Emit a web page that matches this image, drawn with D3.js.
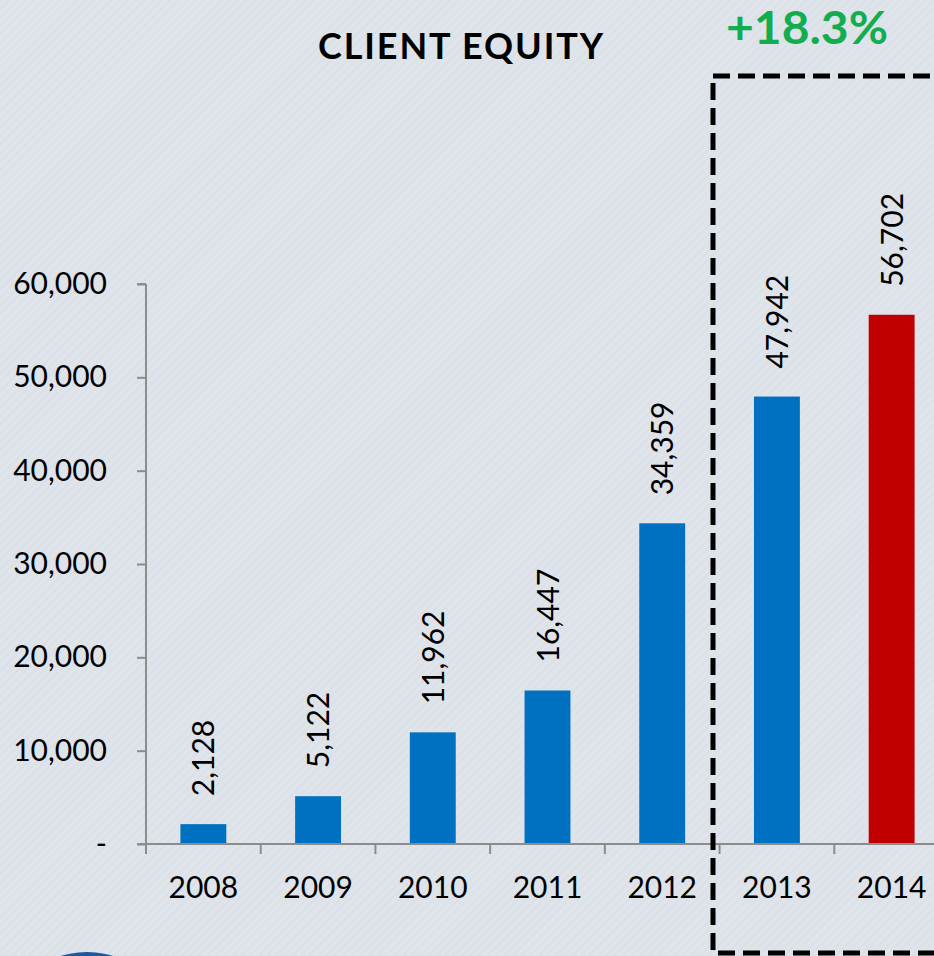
<!DOCTYPE html>
<html>
<head>
<meta charset="utf-8">
<script src="https://cdn.jsdelivr.net/npm/d3@7"></script>
<style>
  html, body { margin: 0; padding: 0; background: #dfe3ea; }
  svg { display: block; font-family: Lato, "Noto Sans", sans-serif; }
</style>
</head>
<body>
<svg id="chart" width="934" height="956"></svg>
<script>
// chart data
const years = ['2008', '2009', '2010', '2011', '2012', '2013', '2014'];
const equity = [2128, 5122, 11962, 16447, 34359, 47942, 56702];
const yTicks = [0, 10000, 20000, 30000, 40000, 50000, 60000];
const title = 'CLIENT EQUITY';
const growthLabel = '+18.3%';

const svg = d3.select('#chart');

// background with a faint diagonal texture
const defs = svg.append('defs');
const pat = defs.append('pattern')
  .attr('id', 'tex')
  .attr('width', 6).attr('height', 6)
  .attr('patternUnits', 'userSpaceOnUse')
  .attr('patternTransform', 'rotate(45)');
pat.append('rect').attr('width', 6).attr('height', 6).attr('fill', '#dfe3ea');
pat.append('line')
  .attr('x1', 0).attr('y1', 0).attr('x2', 0).attr('y2', 6)
  .attr('stroke', '#d9dde5').attr('stroke-width', 2);
svg.append('rect').attr('width', 934).attr('height', 956).attr('fill', 'url(#tex)');

const xScale = d3.scaleBand()
  .domain(years)
  .range([146, 949])
  .paddingInner(0.6)
  .paddingOuter(0.3);

const yScale = d3.scaleLinear()
  .domain([0, 60000])
  .range([844, 284]);

const step = xScale.step();
const fmt = d3.format(',');

// bars
svg.selectAll('.bar')
  .data(equity)
  .enter()
  .append('rect')
  .classed('bar', true)
  .attr('x', (d, i) => xScale(years[i]))
  .attr('width', xScale.bandwidth())
  .attr('y', d => yScale(d))
  .attr('height', d => yScale(0) - yScale(d))
  .attr('fill', (d, i) => i === years.length - 1 ? '#c00000' : '#0070c0');

// value labels, rotated
svg.selectAll('.val')
  .data(equity)
  .enter()
  .append('text')
  .classed('val', true)
  .attr('transform', (d, i) =>
    `translate(${xScale(years[i]) + xScale.bandwidth() / 2 + 11},${yScale(d) - 28}) rotate(-90)`)
  .attr('font-size', 30)
  .attr('fill', '#000')
  .text(d => fmt(d));

// y axis
const yAxis = d3.axisLeft(yScale)
  .tickValues(yTicks)
  .tickSize(9)
  .tickPadding(30)
  .tickFormat(d => d === 0 ? '-' : fmt(d));
const gy = svg.append('g')
  .attr('transform', 'translate(146,0)')
  .call(yAxis);
gy.select('.domain').attr('stroke', '#8c8c8c').attr('stroke-width', 2)
  .attr('d', `M0,${yScale(60000)}H-9M0,${yScale(60000)}V${yScale(0)}`);
gy.selectAll('.tick line').attr('stroke', '#8c8c8c').attr('stroke-width', 2);
gy.selectAll('.tick text')
  .attr('font-size', 30)
  .attr('fill', '#000')
  .attr('font-family', 'Lato, "Noto Sans", sans-serif');

// x axis: ticks at the band boundaries
const gx = svg.append('g');
gx.append('line')
  .attr('x1', 137).attr('x2', 949)
  .attr('y1', yScale(0)).attr('y2', yScale(0))
  .attr('stroke', '#8c8c8c').attr('stroke-width', 2);
gx.selectAll('.xt')
  .data(years)
  .enter()
  .append('line')
  .attr('x1', d => xScale(d) - step * 0.3)
  .attr('x2', d => xScale(d) - step * 0.3)
  .attr('y1', yScale(0)).attr('y2', yScale(0) + 10)
  .attr('stroke', '#8c8c8c').attr('stroke-width', 2);
gx.selectAll('.xl')
  .data(years)
  .enter()
  .append('text')
  .attr('x', d => xScale(d) + xScale.bandwidth() / 2)
  .attr('y', 898)
  .attr('text-anchor', 'middle')
  .attr('font-size', 30)
  .attr('fill', '#000')
  .text(d => d);

// title
svg.append('text')
  .attr('x', 318).attr('y', 59)
  .attr('font-size', 36)
  .attr('font-weight', 'bold')
  .attr('fill', '#000')
  .attr('textLength', 285)
  .attr('lengthAdjust', 'spacing')
  .text(title);

// growth label and dashed highlight box
svg.append('text')
  .attr('x', 726).attr('y', 44)
  .attr('font-size', 45)
  .attr('font-weight', 'bold')
  .attr('fill', '#12ad4f')
  .attr('textLength', 162)
  .attr('lengthAdjust', 'spacingAndGlyphs')
  .text(growthLabel);

svg.append('rect')
  .attr('x', 713).attr('y', 76)
  .attr('width', 260).attr('height', 877)
  .attr('fill', 'none')
  .attr('stroke', '#000')
  .attr('stroke-width', 5)
  .attr('stroke-dasharray', '17 8');

// partial logo circle at the bottom left
svg.append('circle')
  .attr('cx', 87).attr('cy', 1040).attr('r', 88)
  .attr('fill', '#1b5a9c');
</script>
</body>
</html>
